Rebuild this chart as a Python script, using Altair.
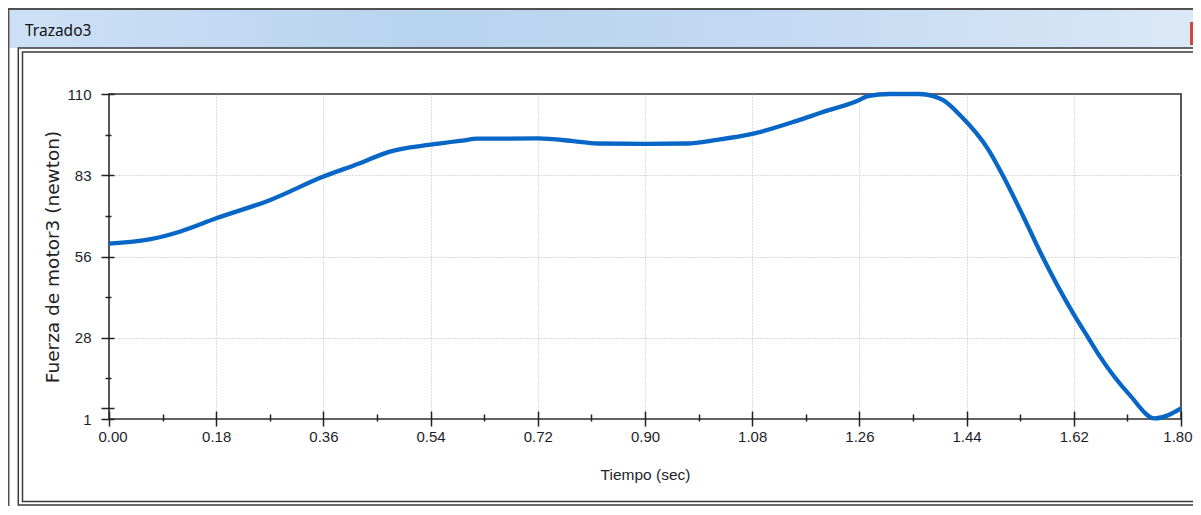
import altair as alt
import pandas as pd

# ---- data ----
t_sec = [0.00, 0.07, 0.12, 0.18, 0.27, 0.36, 0.42, 0.47, 0.54, 0.59, 0.62,
         0.72, 0.78, 0.82, 0.90, 0.97, 1.02, 1.08, 1.155, 1.195, 1.26, 1.274,
         1.31, 1.36, 1.384, 1.40, 1.43, 1.476, 1.50, 1.535, 1.566, 1.619,
         1.645, 1.664, 1.714, 1.756, 1.80]
fuerza = [59.8, 61.3, 63.9, 68.3, 74.4, 82.3, 86.7, 90.6, 93.0, 94.3, 95.0,
          95.1, 94.2, 93.4, 93.3, 93.4, 94.6, 96.6, 101.0, 103.7, 108.0, 109.3,
          110.0, 110.0, 109.3, 108.0, 102.7, 91.5, 83.0, 69.0, 56.0, 36.4,
          28.0, 21.9, 9.0, 1.2, 4.6]

x_major = [0.0, 0.18, 0.36, 0.54, 0.72, 0.90, 1.08, 1.26, 1.44, 1.62, 1.80]
x_minor = [0.09, 0.27, 0.45, 0.63, 0.81, 0.99, 1.17, 1.35, 1.53, 1.71]
y_major = [1, 28.25, 55.5, 82.75, 110]
y_marker = [4.6]
y_minor = [14.625, 41.875, 69.125, 96.375]

window_title = ["Trazado3"]
x_title = "Tiempo (sec)"
y_title = "Fuerza de motor3 (newton)"

W, H = 1072, 325
LAB = "Liberation Sans, Arial, sans-serif"
INK = "#1e1e2a"

df = pd.DataFrame({"t": t_sec, "f": fuerza})
xscale = alt.Scale(domain=[0, 1.8], nice=False, zero=False)
yscale = alt.Scale(domain=[1, 110], nice=False, zero=False)

one = alt.Data(values=[{"k": 1}])


def box(x, x2, y, y2, **kw):
    return alt.Chart(one).mark_rect(**kw).encode(
        x=alt.value(x), x2=alt.value(x2), y=alt.value(y), y2=alt.value(y2))


bar_grad = alt.Gradient(gradient="linear", x1=0, x2=1, y1=0, y2=0,
                        stops=[alt.GradientStop(color="#cde1f6", offset=0),
                               alt.GradientStop(color="#b8d3ee", offset=0.35),
                               alt.GradientStop(color="#c3daf2", offset=0.65),
                               alt.GradientStop(color="#dbe8f7", offset=1)])

deco = [
    box(-99.5, 1090, -84, -46, color=bar_grad),                       # title bar
    box(-101, -99.5, -86, 420, color="#505050"),                      # window left edge
    box(-101, 1090, -86, -84, color="#505050"),                       # window top edge
    box(-90.7, 1094, -46, 411, fill="transparent", stroke="#3a3a3a", strokeWidth=1.5),
    box(-86.5, 1094, -42, 407.5, fill="transparent", stroke="#3a3a3a", strokeWidth=1.5),
    box(1081, 1090, -72, -49, color="#d0473a"),                       # close button
    alt.Chart(alt.Data(values=[{"name": n} for n in window_title])).mark_text(
        align="left", baseline="middle", font="Noto Sans", fontSize=15.5,
        color="#111").encode(x=alt.value(-84), y=alt.value(-63), text="name:N"),
]

axis_common = dict(domain=False, tickColor="#222", tickWidth=1.5,
                   labelOverlap=False)

minor = alt.Chart(df).mark_line(opacity=0).encode(
    x=alt.X("t:Q", scale=xscale, axis=alt.Axis(
        values=x_minor, orient="bottom", offset=-5, tickSize=7, labels=False,
        grid=False, title="", labelFlush=False, **axis_common)),
    y=alt.Y("f:Q", scale=yscale, axis=alt.Axis(
        values=y_minor, orient="left", offset=-2, tickSize=6, labels=False,
        grid=False, title="", labelFlush=False, **axis_common)),
)

line = alt.Chart(df).mark_line(color="#0867c6", strokeWidth=4.3,
                               interpolate="monotone").encode(
    x=alt.X("t:Q", scale=xscale, axis=alt.Axis(
        values=x_major, format=".2f", orient="bottom", offset=-8, tickSize=15,
        labelFont=LAB, labelFontSize=15, labelColor=INK, labelPadding=3,
        labelFlush=True, labelFlushOffset=11,
        grid=True, gridColor="#b9b9b9", gridDash=[1, 2], gridWidth=1,
        gridOpacity={"condition": {"test": "datum.value < 0.01 || datum.value > 1.79",
                                   "value": 0}, "value": 1},
        title=x_title, titleFont=LAB, titleFontSize=15.5, titleFontWeight="normal",
        titleColor=INK, titleY=63, titleBaseline="middle", **axis_common)),
    y=alt.Y("f:Q", scale=yscale, axis=alt.Axis(
        values=y_major + y_marker, orient="left", offset=-5, tickSize=13,
        labelExpr="datum.value == 4.6 ? '' : format(datum.value, '.0f')",
        labelFont=LAB, labelFontSize=15, labelColor=INK, labelPadding=10,
        labelFlush=False,
        grid=True, gridColor="#b9b9b9", gridDash=[1, 2], gridWidth=1,
        gridOpacity={"condition": {"test": "datum.value < 2 || datum.value > 109 || datum.value == 4.6",
                                   "value": 0}, "value": 1},
        title=y_title, titleFont="DejaVu Sans", titleFontSize=18.5,
        titleFontWeight="normal", titleColor="#222", titleX=-61.5,
        titleBaseline="middle", **axis_common)),
)

chart = alt.layer(*deco, minor, line).resolve_axis(
    x="independent", y="independent"
).properties(
    width=W, height=H,
    autosize=alt.AutoSizeParams(type="none"),
    padding={"left": 101, "top": 86, "right": 12, "bottom": 87},
    background="white",
).configure_view(stroke="#2e2e2e", strokeWidth=1.6)

chart.save("out.html", embed_options={"renderer": "svg", "actions": False})
